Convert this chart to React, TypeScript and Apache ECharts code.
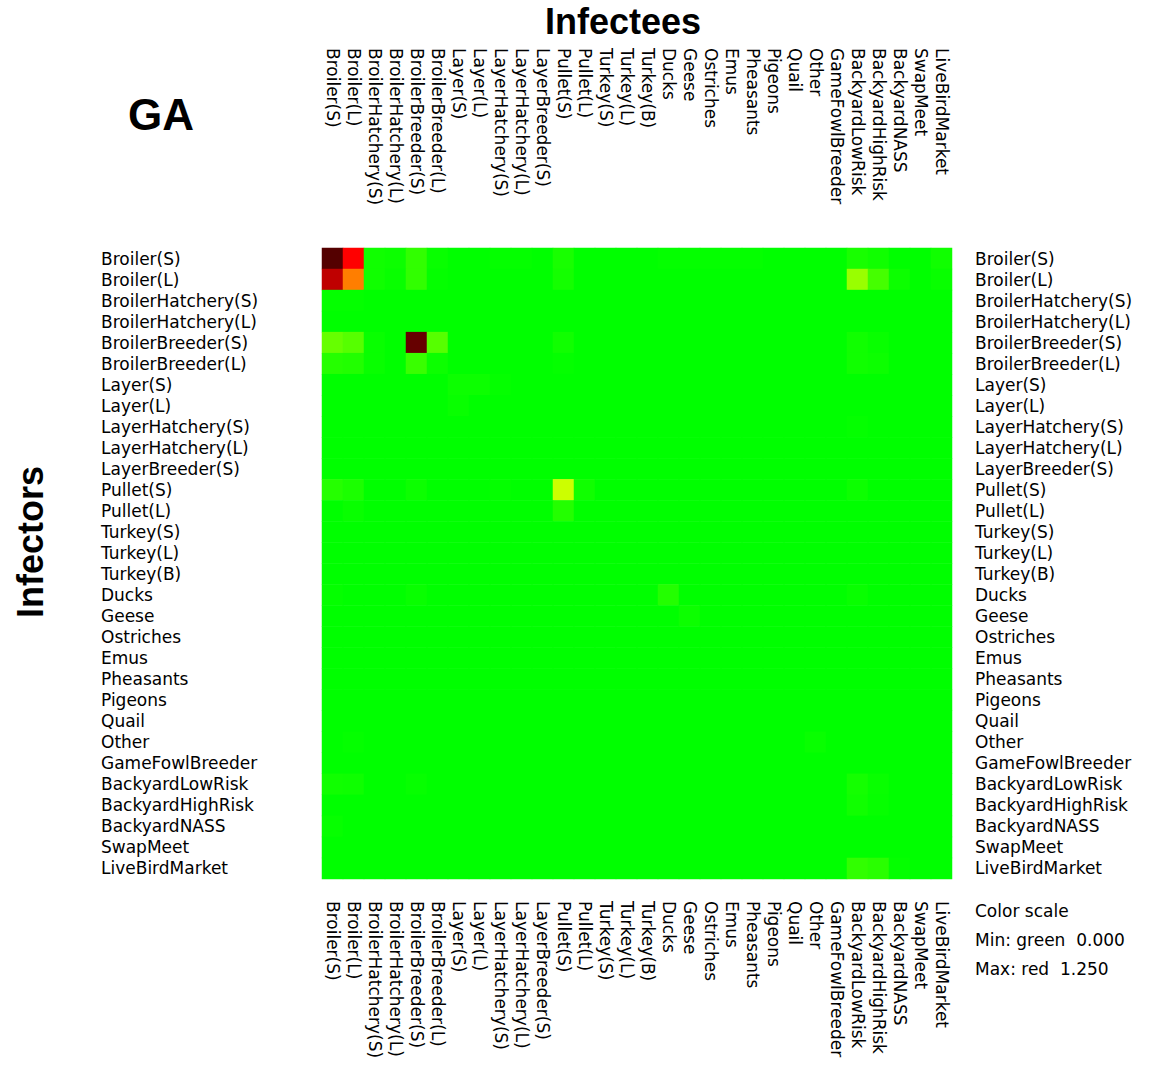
import React, { useEffect, useRef } from "react";
import * as echarts from "echarts";

const categories = [
  "Broiler(S)", "Broiler(L)", "BroilerHatchery(S)", "BroilerHatchery(L)",
  "BroilerBreeder(S)", "BroilerBreeder(L)", "Layer(S)", "Layer(L)",
  "LayerHatchery(S)", "LayerHatchery(L)", "LayerBreeder(S)", "Pullet(S)",
  "Pullet(L)", "Turkey(S)", "Turkey(L)", "Turkey(B)", "Ducks", "Geese",
  "Ostriches", "Emus", "Pheasants", "Pigeons", "Quail", "Other",
  "GameFowlBreeder", "BackyardLowRisk", "BackyardHighRisk", "BackyardNASS",
  "SwapMeet", "LiveBirdMarket",
];

// rows = infectors, columns = infectees (same order as categories)
const matrix: number[][] = [
  [1.81, 1.25, 0.04, 0.03, 0.12, 0.02, 0, 0, 0.01, 0.01, 0, 0.06, 0, 0, 0, 0, 0.01, 0.01, 0.01, 0.01, 0.01, 0, 0, 0, 0, 0.06, 0.04, 0, 0, 0.04],
  [1.46, 0.94, 0.04, 0.02, 0.12, 0.01, 0, 0, 0, 0, 0, 0.05, 0, 0, 0, 0, 0, 0, 0, 0, 0, 0, 0, 0, 0, 0.375, 0.17, 0.03, 0, 0.02],
  [0.01, 0.01, 0, 0, 0, 0, 0, 0, 0, 0, 0, 0, 0, 0, 0, 0, 0, 0, 0, 0, 0, 0, 0, 0, 0, 0, 0, 0, 0, 0],
  [0, 0, 0, 0, 0, 0, 0, 0, 0, 0, 0, 0, 0, 0, 0, 0, 0, 0, 0, 0, 0, 0, 0, 0, 0, 0, 0, 0, 0, 0],
  [0.25, 0.21, 0.02, 0, 1.75, 0.21, 0, 0, 0, 0, 0, 0.04, 0, 0, 0, 0, 0, 0, 0, 0, 0, 0, 0, 0, 0, 0.04, 0.02, 0, 0, 0],
  [0.09, 0.08, 0.02, 0, 0.14, 0.03, 0, 0, 0, 0, 0, 0.01, 0, 0, 0, 0, 0, 0, 0, 0, 0, 0, 0, 0, 0, 0.04, 0.03, 0, 0, 0],
  [0, 0, 0, 0, 0, 0, 0.03, 0.03, 0.01, 0, 0, 0, 0, 0, 0, 0, 0, 0, 0, 0, 0, 0, 0, 0, 0, 0, 0, 0, 0, 0],
  [0, 0, 0, 0, 0, 0, 0.02, 0, 0, 0, 0, 0, 0, 0, 0, 0, 0, 0, 0, 0, 0, 0, 0, 0, 0, 0, 0, 0, 0, 0],
  [0, 0, 0, 0, 0, 0, 0, 0, 0, 0, 0, 0, 0, 0, 0, 0, 0, 0, 0, 0, 0, 0, 0, 0, 0, 0.01, 0, 0, 0, 0],
  [0, 0, 0, 0, 0, 0, 0, 0, 0, 0, 0, 0, 0, 0, 0, 0, 0, 0, 0, 0, 0, 0, 0, 0, 0, 0, 0, 0, 0, 0],
  [0, 0, 0, 0, 0, 0, 0, 0, 0, 0, 0, 0, 0, 0, 0, 0, 0, 0, 0, 0, 0, 0, 0, 0, 0, 0, 0, 0, 0, 0],
  [0.09, 0.065, 0, 0, 0.03, 0, 0, 0, 0.01, 0, 0, 0.5, 0.04, 0, 0, 0, 0, 0, 0, 0, 0, 0, 0, 0, 0, 0.03, 0, 0, 0, 0],
  [0, 0.02, 0, 0, 0, 0, 0, 0, 0, 0, 0, 0.085, 0, 0, 0, 0, 0, 0, 0, 0, 0, 0, 0, 0, 0, 0, 0, 0, 0, 0],
  [0, 0, 0, 0, 0, 0, 0, 0, 0, 0, 0, 0, 0, 0, 0, 0, 0, 0, 0, 0, 0, 0, 0, 0, 0, 0, 0, 0, 0, 0],
  [0, 0, 0, 0, 0, 0, 0, 0, 0, 0, 0, 0, 0, 0, 0, 0, 0, 0, 0, 0, 0, 0, 0, 0, 0, 0, 0, 0, 0, 0],
  [0, 0, 0, 0, 0, 0, 0, 0, 0, 0, 0, 0, 0, 0, 0, 0, 0, 0, 0, 0, 0, 0, 0, 0, 0, 0, 0, 0, 0, 0],
  [0.01, 0, 0, 0, 0.02, 0, 0, 0, 0, 0, 0, 0, 0, 0, 0, 0, 0.085, 0, 0, 0, 0, 0, 0, 0, 0, 0.02, 0, 0, 0, 0],
  [0, 0, 0, 0, 0, 0, 0, 0, 0, 0, 0, 0, 0, 0, 0, 0, 0, 0.03, 0, 0, 0, 0, 0, 0, 0, 0, 0, 0, 0, 0],
  [0, 0, 0, 0, 0, 0, 0, 0, 0, 0, 0, 0, 0, 0, 0, 0, 0, 0, 0, 0, 0, 0, 0, 0, 0, 0, 0, 0, 0, 0],
  [0, 0, 0, 0, 0, 0, 0, 0, 0, 0, 0, 0, 0, 0, 0, 0, 0, 0, 0, 0, 0, 0, 0, 0, 0, 0, 0, 0, 0, 0],
  [0, 0, 0, 0, 0, 0, 0, 0, 0, 0, 0, 0, 0, 0, 0, 0, 0, 0, 0, 0, 0, 0, 0, 0, 0, 0, 0, 0, 0, 0],
  [0, 0, 0, 0, 0, 0, 0, 0, 0, 0, 0, 0, 0, 0, 0, 0, 0, 0, 0, 0, 0, 0, 0, 0, 0, 0, 0, 0, 0, 0],
  [0, 0, 0, 0, 0, 0, 0, 0, 0, 0, 0, 0, 0, 0, 0, 0, 0, 0, 0, 0, 0, 0, 0, 0, 0, 0, 0, 0, 0, 0],
  [0, 0.01, 0, 0, 0, 0, 0, 0, 0, 0, 0, 0, 0, 0, 0, 0, 0, 0, 0, 0, 0, 0, 0, 0.02, 0, 0, 0, 0, 0, 0],
  [0, 0, 0, 0, 0, 0, 0, 0, 0, 0, 0, 0, 0, 0, 0, 0, 0, 0, 0, 0, 0, 0, 0, 0, 0, 0, 0, 0, 0, 0],
  [0.04, 0.035, 0, 0, 0.015, 0, 0, 0, 0, 0, 0, 0, 0, 0, 0, 0, 0, 0, 0, 0, 0, 0, 0, 0, 0, 0.05, 0.02, 0, 0, 0],
  [0, 0, 0, 0, 0, 0, 0, 0, 0, 0, 0, 0, 0, 0, 0, 0, 0, 0, 0, 0, 0, 0, 0, 0, 0, 0.04, 0.015, 0, 0, 0],
  [0.015, 0, 0, 0, 0, 0, 0, 0, 0, 0, 0, 0, 0, 0, 0, 0, 0, 0, 0, 0, 0, 0, 0, 0, 0, 0, 0, 0, 0, 0],
  [0, 0, 0, 0, 0, 0, 0, 0, 0, 0, 0, 0, 0, 0, 0, 0, 0, 0, 0, 0, 0, 0, 0, 0, 0, 0, 0, 0, 0, 0],
  [0, 0, 0, 0, 0, 0, 0, 0, 0, 0, 0, 0, 0, 0, 0, 0, 0, 0, 0, 0, 0, 0, 0, 0, 0, 0.12, 0.1, 0.01, 0, 0],
];

const scaleLines = ["Color scale", "Min: green  0.000", "Max: red  1.250"];
const colorStops = ["#00ff00", "#ffff00", "#ff0000", "#400000"];

const LABEL_FONT = "'DejaVu Sans', sans-serif";
const TITLE_FONT = "'Liberation Sans', Arial, sans-serif";
const LABEL_SIZE = 17;

export default function App() {
  const ref = useRef<HTMLDivElement>(null);

  useEffect(() => {
    document.body.style.margin = "0";
    document.body.style.overflow = "hidden";
    if (!ref.current) return;
    const chart = echarts.init(ref.current, null, { renderer: "svg" });

    const data: number[][] = [];
    matrix.forEach((row, r) => row.forEach((v, c) => data.push([c, r, v])));

    const labelBase = {
      interval: 0,
      color: "#000",
      fontFamily: LABEL_FONT,
      fontSize: LABEL_SIZE,
    };
    const hidden = {
      axisLine: { show: false },
      axisTick: { show: false },
      splitLine: { show: false },
    };

    chart.setOption({
      animation: false,
      backgroundColor: "#ffffff",
      grid: {
        left: 322,
        top: 248,
        width: 630,
        height: 631,
        containLabel: false,
        outerBoundsMode: "none",
      },
      xAxis: [
        {
          type: "category",
          data: categories,
          position: "bottom",
          ...hidden,
          axisLabel: { ...labelBase, rotate: -90, margin: 22 },
        },
      ],
      yAxis: [
        {
          type: "category",
          data: categories,
          inverse: true,
          position: "left",
          ...hidden,
          axisLabel: { ...labelBase, align: "left", margin: 221 },
        },
        {
          type: "category",
          data: categories,
          inverse: true,
          position: "right",
          ...hidden,
          axisLabel: { ...labelBase, align: "left", margin: 23 },
        },
      ],
      visualMap: {
        show: false,
        type: "continuous",
        dimension: 2,
        min: 0,
        max: 1.875,
        inRange: { color: colorStops },
      },
      series: [
        {
          type: "heatmap",
          xAxisIndex: 0,
          yAxisIndex: 0,
          data,
          itemStyle: { borderWidth: 0 },
          emphasis: { disabled: true },
        },
      ],
    });

    // Top (infectee) labels: placed at the category positions of the x axis,
    // hanging downward from a common top line as in the reference.
    const topLabels = categories.map((name) => {
      const px = chart.convertToPixel({ xAxisIndex: 0 }, name) as number;
      return {
        type: "text",
        x: px,
        y: 48,
        rotation: -Math.PI / 2,
        style: {
          text: name,
          font: `${LABEL_SIZE}px ${LABEL_FONT}`,
          fill: "#000",
          align: "left",
          verticalAlign: "middle",
        },
      };
    });

    chart.setOption({
      graphic: [
        {
          type: "text",
          x: 623,
          y: 21,
          style: {
            text: "Infectees",
            font: `bold 36px ${TITLE_FONT}`,
            fill: "#000",
            align: "center",
            verticalAlign: "middle",
          },
        },
        {
          type: "text",
          x: 161,
          y: 114,
          style: {
            text: "GA",
            font: `bold 44px ${TITLE_FONT}`,
            fill: "#000",
            align: "center",
            verticalAlign: "middle",
          },
        },
        {
          type: "text",
          x: 30,
          y: 542,
          rotation: Math.PI / 2,
          style: {
            text: "Infectors",
            font: `bold 36px ${TITLE_FONT}`,
            fill: "#000",
            align: "center",
            verticalAlign: "middle",
          },
        },
        ...scaleLines.map((t, i) => ({
          type: "text",
          x: 975,
          y: 911 + i * 29,
          style: {
            text: t,
            font: `${LABEL_SIZE}px ${LABEL_FONT}`,
            fill: "#000",
            align: "left",
            verticalAlign: "middle",
          },
        })),
        ...topLabels,
      ],
    });

    return () => chart.dispose();
  }, []);

  return <div ref={ref} style={{ width: 1167, height: 1089 }} />;
}
